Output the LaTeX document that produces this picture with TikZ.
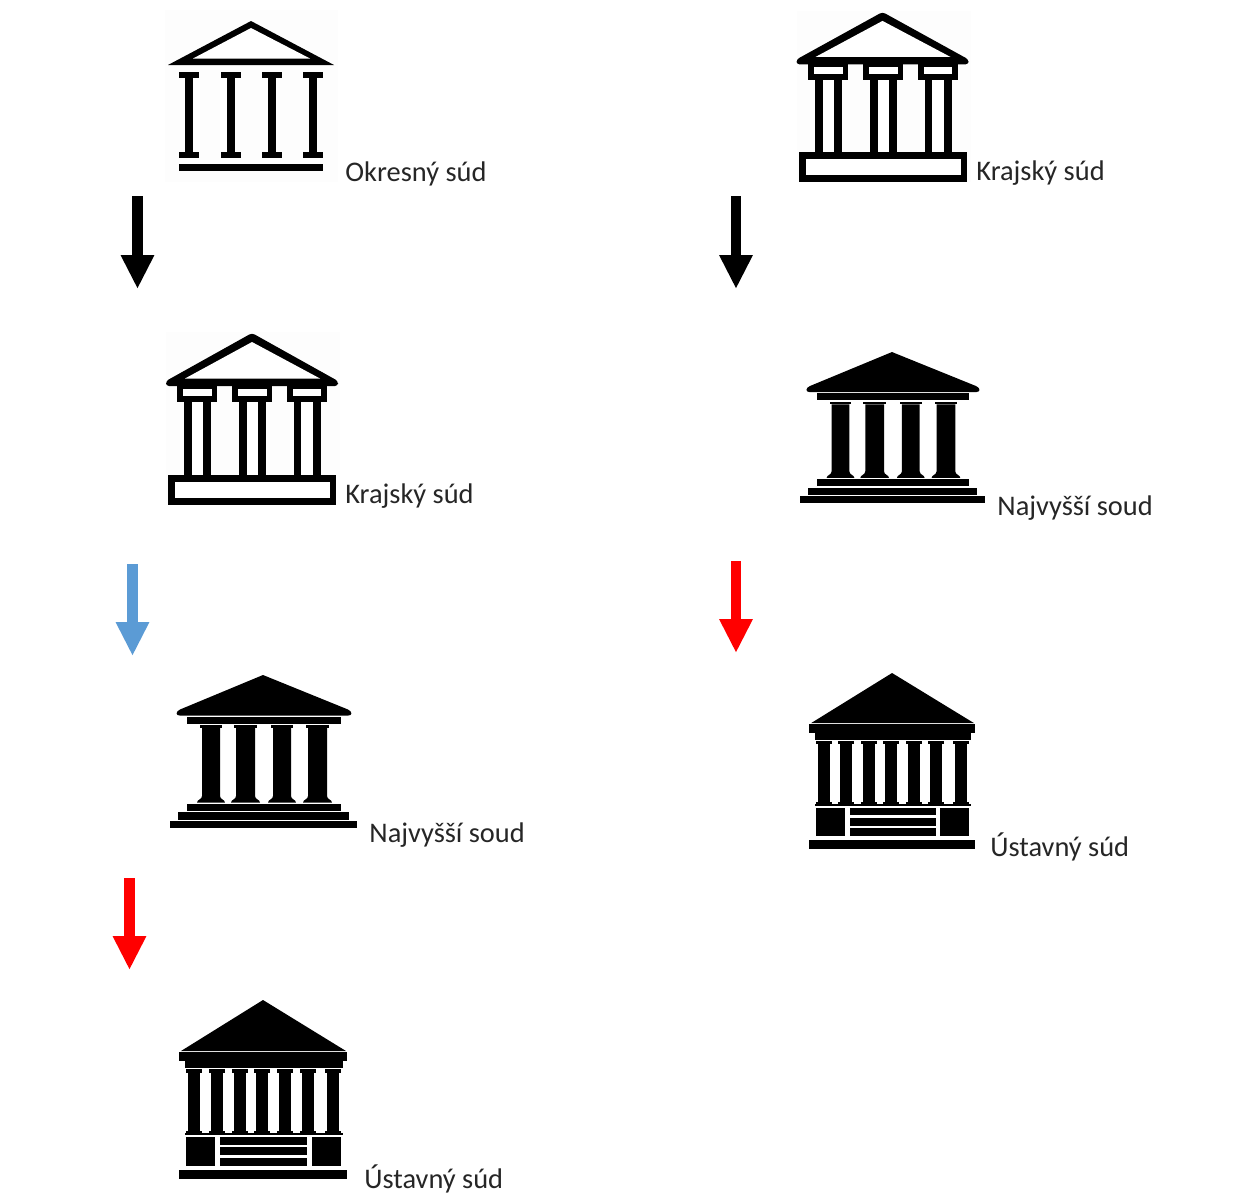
\documentclass[tikz,border=0pt]{standalone}
\usepackage{fontspec}
\setmainfont{Carlito}
\usetikzlibrary{arrows.meta}
\definecolor{lab}{HTML}{262626}
\definecolor{arrowblue}{HTML}{5B9BD5}
\definecolor{faint}{HTML}{FDFDFD}
\tikzset{
  lbl/.style={anchor=base west,inner sep=0pt,text=lab,font=\fontsize{14.2pt}{16pt}\selectfont},
  flow/.style={line width=5.3pt,-{Triangle[width=15.6pt,length=17pt]}},
  ink/.style={fill=black,draw=none},
  paper/.style={fill=white,draw=none}
}
\newcommand\iconOkres{%
  \fill[faint] (165,10) rectangle (338,182);
  \path[ink] (251,21) -- (334,65) -- (168,65) -- cycle;
  \path[paper] (251,28) -- (310,58.5) -- (193,58.5) -- cycle;
  \foreach \c in {189,230.5,272,313}{
    \path[ink] (\c-10,72) rectangle (\c+10,78);
    \path[ink] (\c-4,78) rectangle (\c+4,152);
    \path[ink] (\c-10,152) rectangle (\c+10,158);
  }
  \path[ink] (179,164) rectangle (323,171);
}
\newcommand\iconKraj{%
  \fill[faint] (166,332) rectangle (340,505);
  \path[ink,rounded corners=1.5pt] (252,333) -- (338,381) -- (338,386) -- (166,386) -- (166,381) -- cycle;
  \path[paper] (252,342) -- (320,378.5) -- (185,378.5) -- cycle;
  \foreach \a/\b/\p/\q/\r/\s in {177/217/183/212/192/203, 232/272/238/267/247/258, 287/327/293/321/301/313}{
    \path[ink] (\a,386) rectangle (\b,402);
    \path[paper] (\p,388.5) rectangle (\q,396);
    \path[ink] (\a+7,402) rectangle (\b-6,476);
    \path[paper] (\r,402) rectangle (\s,476);
  }
  \path[ink] (168,475) rectangle (336,505);
  \path[paper] (175,482) rectangle (330,498);
}
\newcommand\iconNaj{%
  \path[ink] (263,675) -- (348,709.5) .. controls (352.5,711.5) and (352.5,715.6) .. (348,715.6)
    -- (180,715.6) .. controls (175.5,715.6) and (175.5,711.5) .. (180,709.5) -- cycle;
  \path[ink] (187,717) rectangle (341,724);
  \foreach \a/\b in {202/220,236/255,273/291,308/327}{
    \path[ink] (\a-2,725.2) rectangle (\b+2,728);
    \path[ink] (\a,728) -- (\b,728) -- (\b,796) .. controls (\b,799.5) and (\b+5,799.5) .. (\b+5,802.6)
      -- (\a-5,802.6) .. controls (\a-5,799.5) and (\a,799.5) .. (\a,796) -- cycle;
  }
  \path[ink] (187,803.8) rectangle (341,811);
  \path[ink] (178,812.4) rectangle (349,819.6);
  \path[ink] (170,821) rectangle (357,828);
}
\newcommand\iconUst{%
  \path[ink] (263,1000) -- (346,1051) -- (181,1051) -- cycle;
  \path[ink] (179,1052.2) rectangle (347,1061);
  \path[ink] (185,1061) rectangle (343,1067.8);
  \foreach \c in {194,216.5,239.5,262,285,307.5,333}{
    \path[ink] (\c-8,1069) rectangle (\c+8,1072.5);
    \path[ink] (\c-6,1072.5) rectangle (\c+6,1131);
    \path[ink] (\c-8,1131) rectangle (\c+8,1133);
  }
  \path[ink] (185,1133) rectangle (343,1135.4);
  \path[ink] (186,1137) rectangle (215,1166);
  \path[ink] (312,1137) rectangle (341,1166);
  \path[ink] (220,1137) rectangle (307,1144.8);
  \path[ink] (220,1147.2) rectangle (307,1155.4);
  \path[ink] (220,1157.8) rectangle (307,1166);
  \path[ink] (179,1170) rectangle (347,1179);
}
\begin{document}
\begin{tikzpicture}[x=0.5pt,y=-0.5pt]
\useasboundingbox (0,0) rectangle (1242,1195);
\fill[white] (0,0) rectangle (1242,1195);
% left column
\iconOkres
\node[lbl] (l1) at (345,181) {Okresný súd};
\iconKraj
\node[lbl] (l2) at (345,503) {Krajský súd};
\iconNaj
\node[lbl] (l3) at (369,842) {Najvyšší soud};
\iconUst
\node[lbl] (l4) at (364,1188) {Ústavný súd};
% right column
\begin{scope}[shift={(630.5,-317)},yscale=0.988]
  \iconKraj
\end{scope}
\node[lbl] (r1) at (976,180) {Krajský súd};
\begin{scope}[shift={(631.6,-314.2)},xscale=0.99,yscale=0.987]
  \iconNaj
\end{scope}
\node[lbl] (r2) at (997,515) {Najvyšší soud};
\begin{scope}[shift={(632.2,-310)},xscale=0.988,yscale=0.983]
  \iconUst
\end{scope}
\node[lbl] (r3) at (990,856) {Ústavný súd};
% arrows
\coordinate (a1s) at (137.5,196); \coordinate (a1e) at (137.5,289);
\coordinate (a2s) at (132.5,564); \coordinate (a2e) at (132.5,656);
\coordinate (a3s) at (129.5,878); \coordinate (a3e) at (129.5,970);
\coordinate (b1s) at (736,196);   \coordinate (b1e) at (736,289);
\coordinate (b2s) at (736,561);   \coordinate (b2e) at (736,653);
\draw[flow,black] (a1s) -- (a1e);
\draw[flow,arrowblue] (a2s) -- (a2e);
\draw[flow,red] (a3s) -- (a3e);
\draw[flow,black] (b1s) -- (b1e);
\draw[flow,red] (b2s) -- (b2e);
\end{tikzpicture}
\end{document}
